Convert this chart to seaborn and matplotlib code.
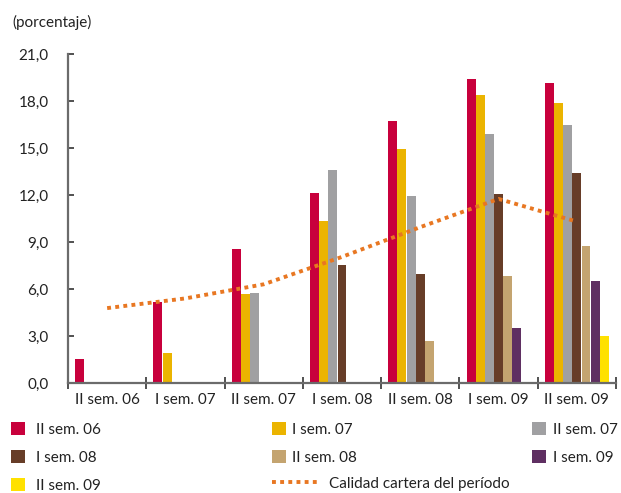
import numpy as np
import pandas as pd
import matplotlib
matplotlib.use("Agg")
import matplotlib.pyplot as plt
import seaborn as sns
from matplotlib.patches import Patch
from matplotlib.lines import Line2D

# ---- data ----
periods = ["II sem. 06", "I sem. 07", "II sem. 07", "I sem. 08", "II sem. 08", "I sem. 09", "II sem. 09"]
cohorts = ["II sem. 06", "I sem. 07", "II sem. 07", "I sem. 08", "II sem. 08", "I sem. 09", "II sem. 09"]
cohort_ii06 = [1.55, 5.18, 8.56, 12.14, 16.73, 19.41, 19.15]
cohort_i07 = [None, 1.93, 5.70, 10.35, 14.95, 18.39, 17.88]
cohort_ii07 = [None, None, 5.76, 13.60, 11.95, 15.90, 16.47]
cohort_i08 = [None, None, None, 7.54, 6.97, 12.07, 13.41]
cohort_ii08 = [None, None, None, None, 2.70, 6.84, 8.76]
cohort_i09 = [None, None, None, None, None, 3.53, 6.52]
cohort_ii09 = [None, None, None, None, None, None, 3.02]
calidad = [4.78, 5.40, 6.30, 8.05, 9.95, 11.75, 10.30]
yticks = [0, 3, 6, 9, 12, 15, 18, 21]
ytick_labels = ["0,0", "3,0", "6,0", "9,0", "12,0", "15,0", "18,0", "21,0"]

colors = ["#C8003C", "#EBB400", "#A0A0A2", "#673D28", "#C4A470", "#5F2F62", "#FFE100"]
line_color = "#E87722"

series = [cohort_ii06, cohort_i07, cohort_ii07, cohort_i08, cohort_ii08, cohort_i09, cohort_ii09]
rows = []
for c, vals in zip(cohorts, series):
    for p, v in zip(periods, vals):
        if v is not None:
            rows.append({"periodo": p, "cohorte": c, "valor": v})
df = pd.DataFrame(rows)

sns.set_style("white")
plt.rcParams["font.family"] = ["Lato", "DejaVu Sans"]

fig = plt.figure(figsize=(6.21, 4.93), dpi=100)
ax = fig.add_axes([68 / 621, 1 - 383 / 493, 548 / 621, 329 / 493])

sns.barplot(data=df, x="periodo", y="valor", hue="cohorte", order=periods,
            hue_order=cohorts, palette=colors, width=0.82, gap=0.03,
            saturation=1, ax=ax, legend=False, edgecolor="none")

ax.plot(np.arange(len(periods)), calidad, color=line_color, lw=2.8,
        linestyle=(0, (1, 1.1)), zorder=5)

ax.set_xlim(-0.5, len(periods) - 0.5)
ax.set_ylim(0, 21)
ax.set_yticks(yticks)
ax.set_yticklabels(ytick_labels)
ax.set_xlabel("")
ax.set_ylabel("")
for s in ["top", "right"]:
    ax.spines[s].set_visible(False)
for s in ["left", "bottom"]:
    ax.spines[s].set_color("#6b6b6b")
    ax.spines[s].set_linewidth(1.6)

ax.tick_params(axis="y", direction="in", length=4, width=1.2, color="#333333",
               pad=14, labelsize=11, labelcolor="#222222", left=True)
ax.set_xticks(np.arange(len(periods)))
ax.set_xticklabels(periods)
ax.set_xticks(np.arange(-0.5, len(periods)), minor=True)
ax.tick_params(axis="x", which="major", length=0, pad=7, labelsize=11, labelcolor="#222222")
ax.tick_params(axis="x", which="minor", direction="inout", length=9, width=1.2,
               color="#333333", bottom=True)

fig.text(12 / 621, 1 - 22 / 493, "(porcentaje)", fontsize=11, color="#222222",
         ha="left", va="center")

# legend: blocks placed in columns
def sq(c):
    return Patch(facecolor=c, edgecolor="none")

lkw = dict(frameon=False, fontsize=11, loc="upper left", borderpad=0,
           borderaxespad=0, handleheight=0.92, labelspacing=0.88,
           labelcolor="#222222")
top = 1 - 422 / 493
fig.legend([sq(colors[0]), sq(colors[3]), sq(colors[6])],
           [cohorts[0], cohorts[3], cohorts[6]],
           bbox_to_anchor=(11 / 621, top), handlelength=0.92, handletextpad=0.72, **lkw)
fig.legend([sq(colors[1]), sq(colors[4])],
           [cohorts[1], cohorts[4]],
           bbox_to_anchor=(272 / 621, top), handlelength=0.92, handletextpad=0.4, **lkw)
fig.legend([sq(colors[2]), sq(colors[5])],
           [cohorts[2], cohorts[5]],
           bbox_to_anchor=(532 / 621, top), handlelength=0.92, handletextpad=0.46, **lkw)
fig.legend([Line2D([0], [0], color=line_color, lw=2.8, linestyle=(0, (1, 1.1)))],
           ["Calidad cartera del período"],
           bbox_to_anchor=(272 / 621, 1 - 476 / 493), handlelength=3.14,
           handletextpad=0.59, **{k: v for k, v in lkw.items()})

fig.savefig("out.png", dpi=100)
